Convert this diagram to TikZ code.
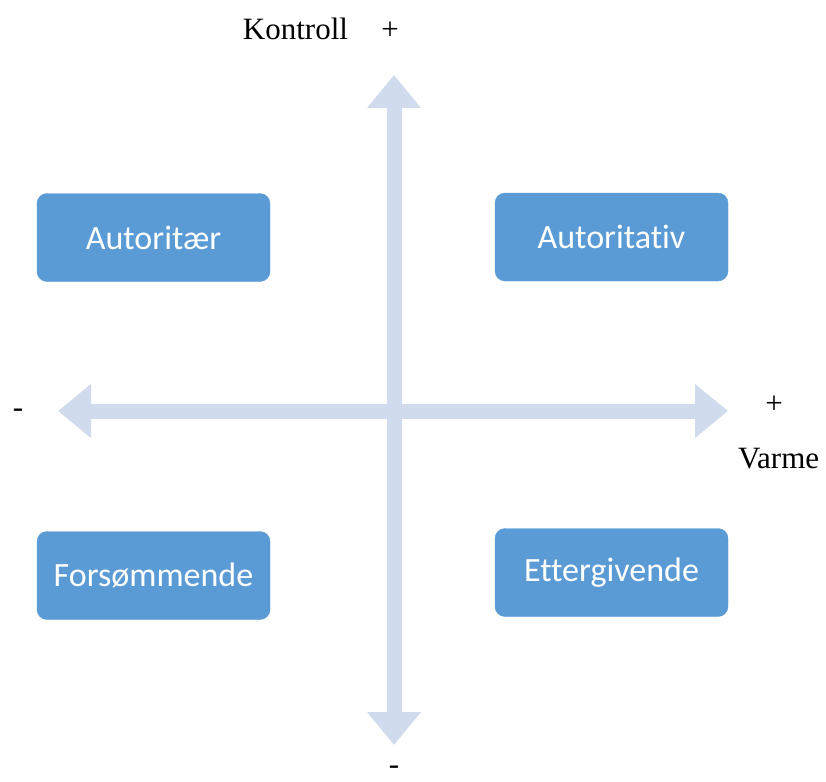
\documentclass[tikz,border=0pt]{standalone}
\usepackage{fontspec}
\setmainfont{Liberation Serif}
\newfontfamily\boxfont[Ligatures=NoCommon]{Carlito}
\usetikzlibrary{arrows.meta}
\definecolor{axisblue}{HTML}{D0DCEE}
\definecolor{boxblue}{HTML}{5B9BD5}

\begin{document}
\begin{tikzpicture}[x=1pt,y=-1pt,
    box/.style={draw=boxblue,fill=boxblue,rounded corners=10pt,minimum width=233pt,minimum height=88pt,inner sep=0pt,text=white,font=\boxfont\fontsize{34}{40}\selectfont},
    axis/.style={draw=axisblue,line width=15pt,>={Triangle[width=52pt,length=33pt]},<->},
    lbl/.style={anchor=base,inner sep=0pt,font=\fontsize{31}{36}\selectfont}]
    \useasboundingbox (0,0) rectangle (826,781);
    \coordinate (ctop) at (394,75);
    \coordinate (cbot) at (394,745);
    \coordinate (cleft) at (58,411);
    \coordinate (cright) at (728,411);
    \draw[axis] (cbot) -- (ctop);
    \draw[axis] (cleft) -- (cright);
    \node[box] (autoritaer) at (153.5,237.5) {Autoritær};
    \node[box] (autoritativ) at (611.5,237) {Autoritativ};
    \node[box] (forsommende) at (153.5,575.5) {Forsømmende};
    \node[box] (ettergivende) at (611.5,572.5) {Ettergivende};
    \node[lbl] (kontroll) at (295.5,40) {Kontroll};
    \node[lbl] (kplus) at (390,40) {+};
    \node[lbl] (vplus) at (774,413) {+};
    \node[lbl,anchor=base west] (varme) at (738,468) {Varme};
    \node[lbl] (vminus) at (18,417) {-};
    \node[lbl] (kminus) at (394,774) {-};
\end{tikzpicture}
\end{document}
